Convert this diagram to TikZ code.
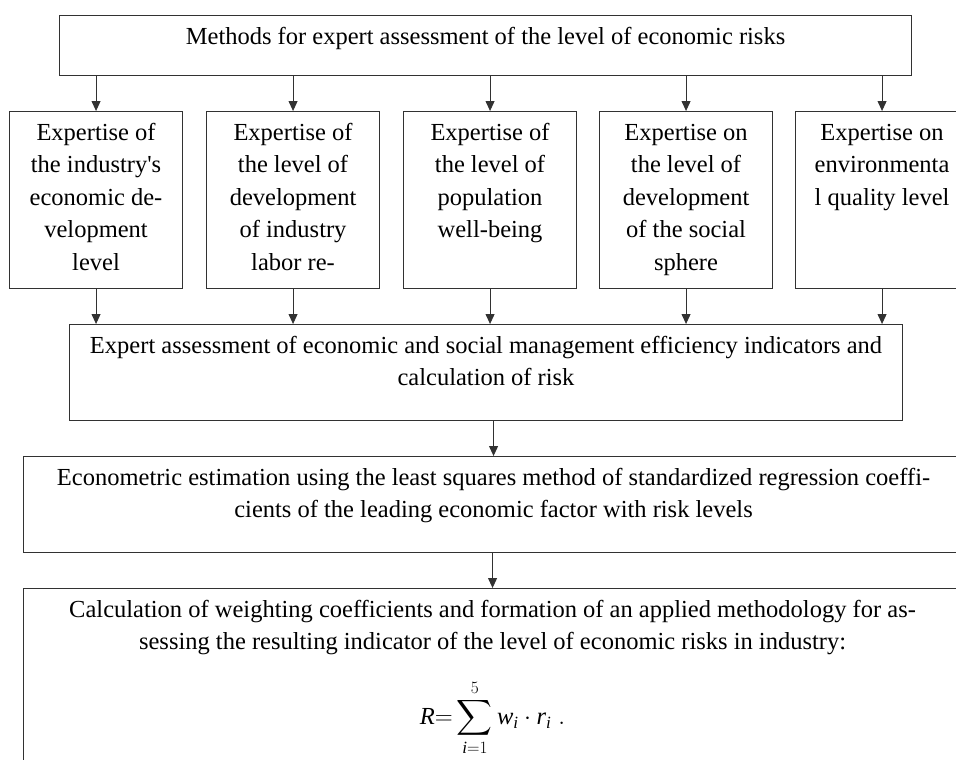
\documentclass[tikz,border=0pt]{standalone}
\usepackage{amsmath}
\usepackage{fontspec}
\setmainfont{Liberation Serif}
\usepackage{xcolor}
\usetikzlibrary{arrows.meta,positioning}
\definecolor{trait}{RGB}{50,50,50}
\newcommand{\boite}[3]{\parbox[c][#2][t]{#1}{\centering\rule{0pt}{28.5pt}#3}}

\begin{document}
\begin{tikzpicture}[x=1pt,y=-1pt,
    cadre/.style={draw=trait,line width=1.1pt,inner sep=0pt,anchor=north west,
      font=\fontsize{24.5}{32.5}\selectfont},
    fleche/.style={-{Triangle[length=10pt,width=9pt]},line width=0.9pt,draw=trait,fill=trait}]
  \useasboundingbox (0,0) rectangle (956,760);
  % top
  \node[cadre] (meth) at (59,15) {\boite{852pt}{60pt}{Methods for expert assessment of the level of economic risks}};
  % five expertises
  \node[cadre] (m1) at (9,111) {\boite{173pt}{177pt}{Expertise of\\the industry\textquotesingle s\\economic de-\\velopment\\level}};
  \node[cadre] (m2) at (206,111) {\boite{173pt}{177pt}{Expertise of\\the level of\\development\\of industry\\labor re-}};
  \node[cadre] (m3) at (403,111) {\boite{173pt}{177pt}{Expertise of\\the level of\\population\\well-being}};
  \node[cadre] (m4) at (599,111) {\boite{173pt}{177pt}{Expertise on\\the level of\\development\\of the social\\sphere}};
  \node[cadre] (m5) at (795,111) {\boite{173pt}{177pt}{Expertise on\\environmenta\\l quality level}};
  % lower blocks
  \node[cadre] (expert) at (69,324) {\boite{833pt}{96pt}{Expert assessment of economic and social management efficiency indicators and\\calculation of risk}};
  \node[cadre] (econ) at (23,456) {\boite{940pt}{96pt}{Econometric estimation using the least squares method of standardized regression coeffi-\\cients of the leading economic factor with risk levels}};
  \node[cadre] (calc) at (23,588) {\boite{938pt}{220pt}{Calculation of weighting coefficients and formation of an applied methodology for as-\\sessing the resulting indicator of the level of economic risks in industry:\\[42.5pt]\smash{$\displaystyle \textit{R}{=}\sum_{\textit{i}=1}^{5}\textit{w}_{\textit{i}}\cdot\textit{r}_{\textit{i}}\;.$}}};
  % connectors
  \foreach \k in {1,...,5} {
    \draw[fleche] (m\k.north |- meth.south) -- (m\k.north);
    \draw[fleche] (m\k.south) -- (m\k.south |- expert.north);
  }
  \draw[fleche] (econ.north |- expert.south) -- (econ.north);
  \draw[fleche] (calc.north |- econ.south) -- (calc.north);
\end{tikzpicture}
\end{document}
